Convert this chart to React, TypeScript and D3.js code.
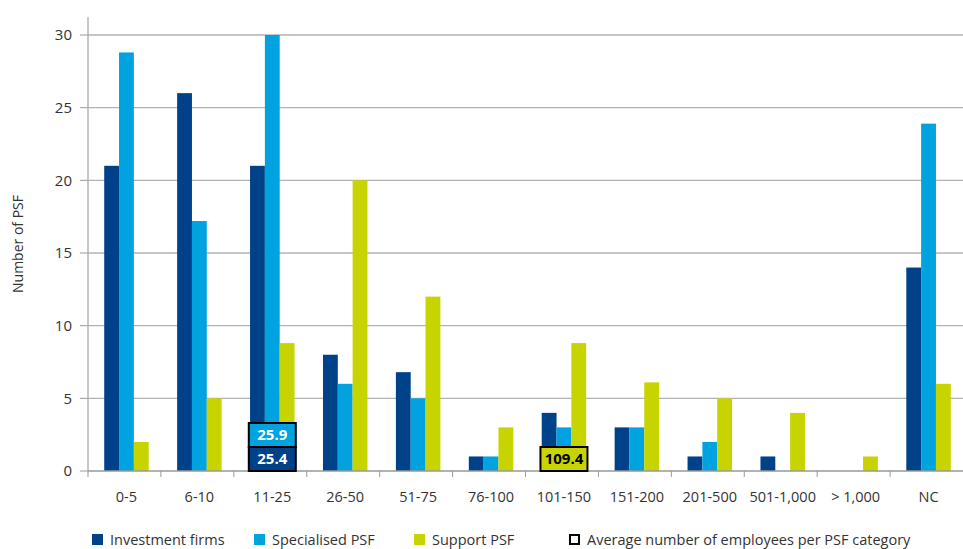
import * as d3 from "d3";

const categories = ["0-5", "6-10", "11-25", "26-50", "51-75", "76-100", "101-150", "151-200", "201-500", "501-1,000", "> 1,000", "NC"];
const seriesNames = ["Investment firms", "Specialised PSF", "Support PSF"];
const investmentFirms = [21, 26, 21, 8, 6.8, 1, 4, 3, 1, 1, 0, 14];
const specialisedPSF = [28.8, 17.2, 30, 6, 5, 1, 3, 3, 2, 0, 0, 23.9];
const supportPSF = [2, 5, 8.8, 20, 12, 3, 8.8, 6.1, 5, 4, 1, 6];
const yTicks = [0, 5, 10, 15, 20, 25, 30];
// average employees labels: [category, series index, value]
const averages: [string, number, string][] = [
  ["11-25", 1, "25.9"],
  ["11-25", 0, "25.4"],
  ["101-150", 2, "109.4"],
];

const colors = ["#00428a", "#00a3e0", "#c8d400"];
const textColors = ["#ffffff", "#ffffff", "#000000"];
const font = "'Open Sans', sans-serif";

export default function App() {
  const width = 963;
  const height = 549;
  const margin = { top: 17, right: 0, bottom: 78, left: 88 };
  const plotBottom = 471;

  const x = d3.scaleBand<string>().domain(categories).range([88, width]).padding(0);
  const group = d3
    .scaleBand<number>()
    .domain([0, 1, 2])
    .range([0, x.bandwidth() * 0.61])
    .padding(0);
  const groupOffset = (x.bandwidth() - x.bandwidth() * 0.61) / 2 + 2;
  const y = d3.scaleLinear().domain([0, 30]).range([plotBottom, 35]);

  const series = [investmentFirms, specialisedPSF, supportPSF];
  const boundaries = categories.slice(1).map((c) => x(c) as number);

  const legendItems = [
    { label: seriesNames[0], x: 92, fill: colors[0], stroke: "none" },
    { label: seriesNames[1], x: 254, fill: colors[1], stroke: "none" },
    { label: seriesNames[2], x: 414, fill: colors[2], stroke: "none" },
    { label: "Average number of employees per PSF category", x: 569, fill: "#fff", stroke: "#000" },
  ];

  return (
    <svg width={width} height={height} style={{ position: "absolute", left: 0, top: 0, fontFamily: font }}>
      <rect width={width} height={height} fill="#fff" />
      {/* gridlines */}
      {yTicks.map((t) => (
        <g key={t}>
          {t > 0 && <line x1={margin.left} x2={width} y1={y(t)} y2={y(t)} stroke="#b3b3b3" strokeWidth={1.3} />}
          <line x1={80} x2={margin.left} y1={y(t)} y2={y(t)} stroke="#999" strokeWidth={1} />
          <text x={72} y={y(t)} dy="0.35em" textAnchor="end" fontSize={15} fill="#333">
            {t}
          </text>
        </g>
      ))}
      {/* y axis */}
      <line x1={margin.left} x2={margin.left} y1={margin.top} y2={plotBottom} stroke="#aaa" strokeWidth={1.3} />
      <text
        transform={`translate(23,${(margin.top + plotBottom) / 2}) rotate(-90)`}
        textAnchor="middle"
        fontSize={14}
        fill="#333"
      >
        Number of PSF
      </text>

      {/* bars */}
      {categories.map((c, i) => (
        <g key={c} transform={`translate(${(x(c) as number) + groupOffset},0)`}>
          {series.map((s, k) =>
            s[i] > 0 ? (
              <rect
                key={k}
                x={group(k)}
                y={y(s[i])}
                width={group.bandwidth()}
                height={plotBottom - y(s[i])}
                fill={colors[k]}
              />
            ) : null
          )}
        </g>
      ))}

      {/* x axis */}
      <line x1={margin.left} x2={width} y1={plotBottom} y2={plotBottom} stroke="#999" strokeWidth={1.3} />
      {[88, ...boundaries].map((b, i) => (
        <line key={i} x1={b} x2={b} y1={plotBottom} y2={plotBottom + 6} stroke="#999" strokeWidth={1} />
      ))}
      {categories.map((c) => (
        <text
          key={c}
          x={(x(c) as number) + x.bandwidth() / 2 + 2}
          y={497}
          dy="0.35em"
          textAnchor="middle"
          fontSize={14.5}
          fill="#333"
        >
          {c}
        </text>
      ))}

      {/* average labels */}
      {averages.map(([c, k, v], idx) => {
        const stackIndex = averages.filter((a, j) => j > idx && a[0] === c).length;
        const boxH = 24;
        const boxW = 47;
        const cx = (x(c) as number) + x.bandwidth() / 2 + 2;
        const top = plotBottom - boxH * (stackIndex + 1);
        return (
          <g key={idx}>
            <rect x={cx - boxW / 2} y={top} width={boxW} height={boxH} fill={colors[k]} stroke="#000" strokeWidth={2} />
            <text x={cx} y={top + boxH / 2} dy="0.36em" textAnchor="middle" fontSize={15} fontWeight="bold" fill={textColors[k]}>
              {v}
            </text>
          </g>
        );
      })}

      {/* legend */}
      {legendItems.map((l) => (
        <g key={l.label} transform={`translate(${l.x},540)`}>
          <rect
            x={l.stroke === "none" ? 0 : 1}
            y={l.stroke === "none" ? -6 : -5}
            width={l.stroke === "none" ? 11 : 9}
            height={l.stroke === "none" ? 11 : 9}
            fill={l.fill}
            stroke={l.stroke}
            strokeWidth={2}
          />
          <text x={18} y={0} dy="0.35em" fontSize={14.5} fill="#333">
            {l.label}
          </text>
        </g>
      ))}
    </svg>
  );
}
